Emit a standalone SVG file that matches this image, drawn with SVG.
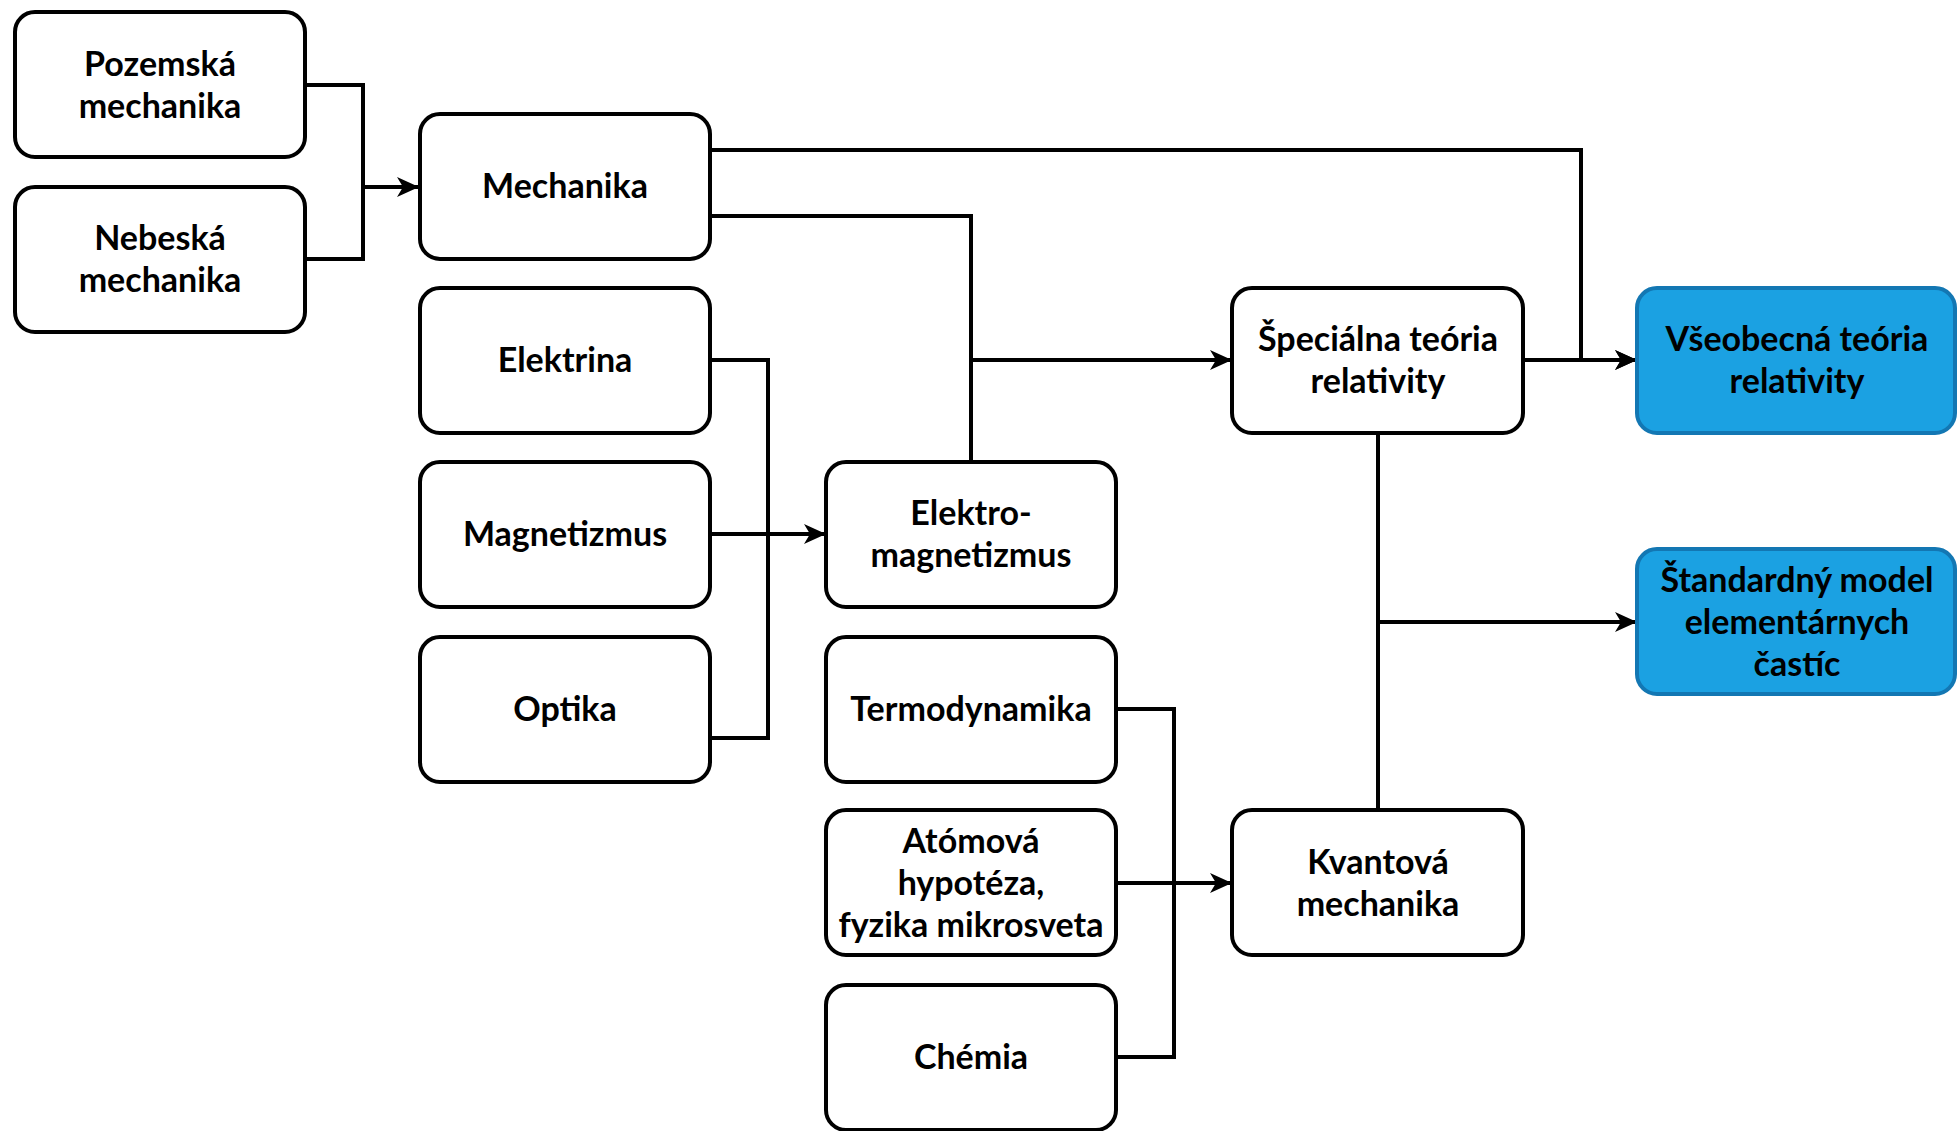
<svg xmlns="http://www.w3.org/2000/svg" width="1957" height="1131" viewBox="0 0 1957 1131">
<style>
.box{fill:#ffffff;stroke:#000000;stroke-width:4}
.blue{fill:#1ba1e2;stroke:#1377b3;stroke-width:4}
.lbl{font-family:Lato,"Open Sans",sans-serif;font-weight:bold;font-size:34px;fill:#000000;text-anchor:middle;dominant-baseline:central}
.edge{fill:none;stroke:#000000;stroke-width:4}
</style>
<defs>
<marker id="arr" viewBox="0 0 22 22" refX="21" refY="11" markerWidth="22" markerHeight="22" markerUnits="userSpaceOnUse" orient="auto">
<path d="M0,1 L22,11 L0,21 L6,11 Z" fill="#000000"/>
</marker>
</defs>
<rect width="1957" height="1131" fill="#ffffff"/>
<g id="connectors">
<path class="edge" d="M305,85 H363 V187 H418" marker-end="url(#arr)"/>
<path class="edge" d="M305,259 H363 V187"/>
<path class="edge" d="M710,150 H1581 V360 H1636" marker-end="url(#arr)"/>
<path class="edge" d="M710,216 H971 V360 H1231" marker-end="url(#arr)"/>
<path class="edge" d="M971,462 V360"/>
<path class="edge" d="M710,360 H768 V534 H825" marker-end="url(#arr)"/>
<path class="edge" d="M710,534 H768"/>
<path class="edge" d="M710,738 H768 V534"/>
<path class="edge" d="M1523,360 H1636" marker-end="url(#arr)"/>
<path class="edge" d="M1378,433 V622 H1636" marker-end="url(#arr)"/>
<path class="edge" d="M1378,810 V622"/>
<path class="edge" d="M1116,709 H1174 V883 H1231" marker-end="url(#arr)"/>
<path class="edge" d="M1116,883 H1174"/>
<path class="edge" d="M1116,1057 H1174 V883"/>
</g>
<g id="n-pozemska"><rect class="box" x="15" y="12" width="290" height="145" rx="20"/><text class="lbl" x="160" y="62">Pozemská</text><text class="lbl" x="160" y="104">mechanika</text></g>
<g id="n-nebeska"><rect class="box" x="15" y="187" width="290" height="145" rx="20"/><text class="lbl" x="160" y="236">Nebeská</text><text class="lbl" x="160" y="278">mechanika</text></g>
<g id="n-mechanika"><rect class="box" x="420" y="114" width="290" height="145" rx="20"/><text class="lbl" x="565" y="184">Mechanika</text></g>
<g id="n-elektrina"><rect class="box" x="420" y="288" width="290" height="145" rx="20"/><text class="lbl" x="565" y="358">Elektrina</text></g>
<g id="n-magnetizmus"><rect class="box" x="420" y="462" width="290" height="145" rx="20"/><text class="lbl" x="565" y="532">Magnetizmus</text></g>
<g id="n-optika"><rect class="box" x="420" y="637" width="290" height="145" rx="20"/><text class="lbl" x="565" y="707">Optika</text></g>
<g id="n-elektromagnetizmus"><rect class="box" x="826" y="462" width="290" height="145" rx="20"/><text class="lbl" x="971" y="511">Elektro-</text><text class="lbl" x="971" y="553">magnetizmus</text></g>
<g id="n-termodynamika"><rect class="box" x="826" y="637" width="290" height="145" rx="20"/><text class="lbl" x="971" y="707">Termodynamika</text></g>
<g id="n-atomova"><rect class="box" x="826" y="810" width="290" height="145" rx="20"/><text class="lbl" x="971" y="839">Atómová</text><text class="lbl" x="971" y="881">hypotéza,</text><text class="lbl" x="971" y="923">fyzika mikrosveta</text></g>
<g id="n-chemia"><rect class="box" x="826" y="985" width="290" height="145" rx="20"/><text class="lbl" x="971" y="1055">Chémia</text></g>
<g id="n-specialna"><rect class="box" x="1232" y="288" width="291" height="145" rx="20"/><text class="lbl" x="1378" y="337">Špeciálna teória</text><text class="lbl" x="1378" y="379">relativity</text></g>
<g id="n-kvantova"><rect class="box" x="1232" y="810" width="291" height="145" rx="20"/><text class="lbl" x="1378" y="860">Kvantová</text><text class="lbl" x="1378" y="902">mechanika</text></g>
<g id="n-vseobecna"><rect class="blue" x="1637" y="288" width="318" height="145" rx="20"/><text class="lbl" x="1797" y="337">Všeobecná teória</text><text class="lbl" x="1797" y="379">relativity</text></g>
<g id="n-standardny"><rect class="blue" x="1637" y="549" width="318" height="145" rx="20"/><text class="lbl" x="1797" y="578">Štandardný model</text><text class="lbl" x="1797" y="620">elementárnych</text><text class="lbl" x="1797" y="662">častíc</text></g>
</svg>
